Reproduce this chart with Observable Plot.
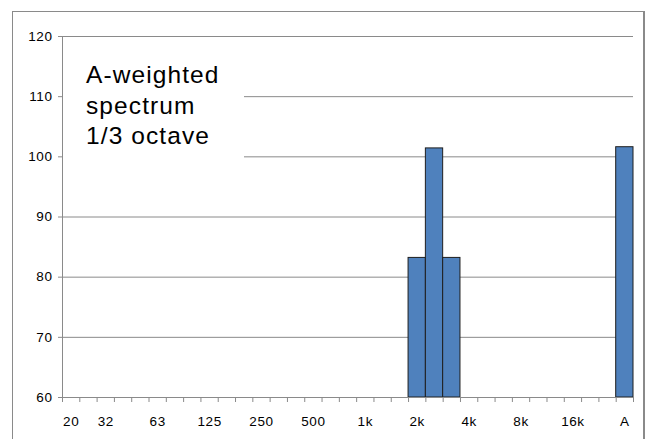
<!DOCTYPE html>
<html>
<head>
<meta charset="utf-8">
<script src="https://cdn.jsdelivr.net/npm/d3@7"></script>
<script src="https://cdn.jsdelivr.net/npm/@observablehq/plot@0.6"></script>
<style>
  html, body { margin: 0; padding: 0; background: #fff; }
  #wrap { position: relative; width: 648px; height: 439px; overflow: hidden; font-family: "Liberation Sans", Arial, sans-serif; }
  #frame { position: absolute; left: 12px; top: 11px; width: 633px; height: 460px; border: 1px solid #8a8a8a; border-right: 2px solid #8a8a8a; box-sizing: border-box; pointer-events: none; }
  #title { position: absolute; left: 63px; top: 46px; width: 181px; height: 118px; background: #fff; padding-left: 23px; padding-top: 14px; box-sizing: border-box;
           font-size: 24.5px; line-height: 30.5px; letter-spacing: 1.1px; color: #000; }
</style>
</head>
<body>
<div id="wrap">
  <div id="chart"></div>
  <div id="frame"></div>
  <div id="title">A-weighted<br>spectrum<br>1/3 octave</div>
</div>
<script>
const bands = ["20","25","31.5","40","50","63","80","100","125","160","200","250","315","400","500","630","800","1k","1.25k","1.6k","2k","2.5k","3.15k","4k","5k","6.3k","8k","10k","12.5k","16k","20k","gap","A"];
const tickLabels = ["20","","32","","","63","","","125","","","250","","","500","","","1k","","","2k","","","4k","","","8k","","","16k","","","A"];
const levels = [null,null,null,null,null,null,null,null,null,null,null,null,null,null,null,null,null,null,null,null,83.2,101.4,83.2,null,null,null,null,null,null,null,null,null,101.6];
const yTicks = [60,70,80,90,100,110,120];
const yMin = 60, yMax = 120;

const data = bands.map((b, i) => ({band: b, label: tickLabels[i], value: levels[i]})).filter(d => d.value != null);

const W = 648, H = 439, mL = 62, mR = 15, mT = 36, mB = 42;
const bw = (W - mL - mR) / bands.length;
const labelOf = new Map(bands.map((b, i) => [b, tickLabels[i]]));

const chart = Plot.plot({
  width: W, height: H,
  marginLeft: mL, marginRight: mR, marginTop: mT, marginBottom: mB,
  style: {fontFamily: "'Liberation Sans', Arial, sans-serif", fontSize: "13.5px", color: "#000", background: "#fff", letterSpacing: "0.6px"},
  x: {type: "band", domain: bands, padding: 0, round: false, axis: null},
  y: {domain: [yMin, yMax], axis: null},
  marks: [
    Plot.gridY(yTicks.filter(t => t > yMin), {stroke: "#8a8a8a", strokeOpacity: 1}),
    Plot.barY(data, {x: "band", y1: yMin, y2: "value", fill: "#4f81bd", stroke: "#1e1e1e", strokeWidth: 1}),
    Plot.ruleY([yMin], {stroke: "#8a8a8a"}),
    Plot.frame({anchor: "left", stroke: "#8a8a8a"}),
    Plot.axisY(yTicks, {anchor: "left", tickSize: 4, tickPadding: 6, stroke: "#8a8a8a", fill: "#000", label: null}),
    Plot.axisX(bands, {anchor: "bottom", tickSize: 5, text: null, dx: -bw / 2, stroke: "#8a8a8a", label: null}),
    Plot.axisX([bands[bands.length - 1]], {anchor: "bottom", tickSize: 5, text: null, dx: bw / 2, stroke: "#8a8a8a", label: null}),
    Plot.axisX(bands, {anchor: "bottom", tickSize: 0, tickPadding: 19, tickFormat: d => labelOf.get(d), fill: "#000", label: null})
  ]
});
document.getElementById("chart").appendChild(chart);
</script>
</body>
</html>
